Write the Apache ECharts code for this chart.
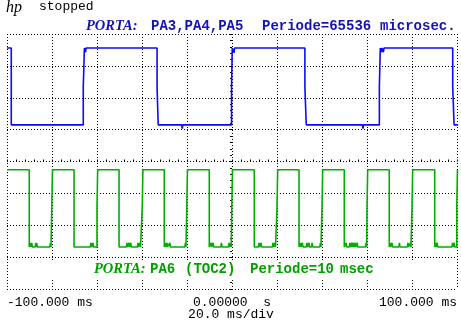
<!DOCTYPE html>
<html>
<head>
<meta charset="utf-8">
<script src="https://cdn.jsdelivr.net/npm/echarts@6/dist/echarts.min.js"></script>
<style>
  html, body { margin: 0; padding: 0; background: #fff; }
  #scope { width: 461px; height: 322px; }
</style>
</head>
<body>
<div id="scope"></div>
<script>
// Time base in ms, vertical position in screen divisions (-4 .. 4).
const timeTicks = [-100, 0, 100];
const tickLabels = ['-100.000 ms', '0.00000  s', '100.000 ms'];
const timebaseLabel = '20.0 ms/div';

// PA3/PA4/PA5 trace: starting level, transitions [ms, new level], glitches [ms, offset].
const blueStart = 3.56;
const blueEdges = [
  [-98.1, 1.15],
  [-66.1, 2.34], [-65.6, 3.56],
  [-33.3, 2.34], [-32.8, 1.15],
  [-0.2, 2.34], [0.1, 3.56],
  [32.4, 2.34], [33.0, 1.15],
  [65.5, 2.34], [65.9, 3.56],
  [98.1, 2.34], [98.7, 1.15]
];
const blueGlitches = [
  [-65.1, -0.13], [-22.1, -0.12], [0.9, -0.15],
  [58.2, -0.12], [66.4, -0.13], [67.3, -0.13]
];

// PA6 (TOC2) trace.
const greenStart = -0.26;
const greenEdges = [
  [-90.1, -2.68],
  [-80.1, -1.47], [-79.8, -0.26],
  [-70.2, -2.68],
  [-60.0, -1.47], [-59.7, -0.26],
  [-50.2, -2.68],
  [-39.9, -1.47], [-39.6, -0.26],
  [-30.1, -2.68],
  [-20.1, -1.47], [-19.8, -0.26],
  [-10.1, -2.68],
  [-0.1, -1.47], [0.2, -0.26],
  [9.9, -2.68],
  [20.0, -1.47], [20.3, -0.26],
  [29.8, -2.68],
  [40.0, -1.47], [40.3, -0.26],
  [49.9, -2.68],
  [60.0, -1.47], [60.3, -0.26],
  [69.9, -2.68],
  [80.0, -1.47], [80.3, -0.26],
  [90.1, -2.68],
  [99.9, -1.47], [100.2, -0.26]
];
const greenGlitches = [
  [-89.6, 0.13], [-89.0, 0.13], [-87.2, 0.13], [-86.8, 0.13], [-80.7, 0.12],
  [-62.7, 0.13], [-61.8, 0.13],
  [-46.7, 0.13], [-45.8, 0.13], [-45.0, 0.13], [-41.8, 0.13], [-40.9, 0.13],
  [-29.8, 0.13], [-28.9, 0.13], [-27.6, 0.13], [-20.7, 0.13],
  [-9.3, 0.13], [-8.4, 0.13], [-4.7, 0.13], [-1.3, 0.13], [-0.6, 0.12],
  [12.0, 0.13], [12.9, 0.13], [18.2, 0.13], [19.1, 0.13],
  [30.4, 0.13], [31.3, 0.13], [33.3, 0.13], [34.2, 0.13], [35.6, 0.13], [39.3, 0.13],
  [50.7, 0.13], [52.4, 0.13], [53.2, 0.13], [53.9, 0.13], [54.7, 0.13], [55.6, 0.13], [59.6, 0.13],
  [70.2, 0.13], [71.1, 0.13], [74.4, 0.13], [78.2, 0.13], [79.3, 0.13],
  [90.5, 0.13], [91.2, 0.13], [98.0, 0.13], [98.7, 0.13]
];

// Turn a start level, transitions and glitches into a step polyline.
function buildTrace(start, edges, glitches) {
  const events = edges.map(e => ({ t: e[0], level: e[1] }))
    .concat(glitches.map(g => ({ t: g[0], d: g[1] })))
    .sort((a, b) => a.t - b.t);
  let cur = start;
  const pts = [[-100, cur]];
  events.forEach(ev => {
    if (ev.level !== undefined) {
      pts.push([ev.t, cur]);
      cur = ev.level;
      pts.push([ev.t, cur]);
    } else {
      pts.push([ev.t - 0.25, cur], [ev.t, cur + ev.d], [ev.t + 0.25, cur]);
    }
  });
  pts.push([100.5, cur]);
  return pts;
}

const dotted = { color: '#000', width: 1, type: [1, 2] };
const monoBold = 'bold 14px "Liberation Mono", monospace';
const monoPlain = '13px "Liberation Mono", monospace';
const serifItalic = 'italic bold 14.5px "Liberation Serif", serif';
const blueText = '#1414b4';
const greenText = '#00a000';

function label(text, x, y, fill, font, align) {
  return {
    type: 'text', z: 20,
    style: {
      text: text, x: x, y: y, fill: fill, font: font,
      textAlign: align || 'left', textVerticalAlign: 'middle'
    }
  };
}

const chart = echarts.init(document.getElementById('scope'), null, { renderer: 'canvas' });
chart.setOption({
  animation: false,
  backgroundColor: '#fff',
  grid: { left: 7, right: 4, top: 34, bottom: 33, containLabel: false, outerBoundsMode: 'none' },
  xAxis: [
    {
      type: 'value', min: -100, max: 100, interval: 20,
      axisLine: { show: false, onZero: true },
      axisTick: { show: true, inside: true, length: 2, lineStyle: { color: '#000' } },
      minorTick: { show: true, splitNumber: 5, length: 2, lineStyle: { color: '#000' } },
      axisLabel: { show: false },
      splitLine: { show: true, lineStyle: dotted }
    },
    {
      type: 'value', position: 'bottom', min: -100, max: 100, interval: 100,
      axisLine: { show: false, onZero: false },
      axisTick: { show: false },
      splitLine: { show: false },
      axisLabel: {
        formatter: v => tickLabels[timeTicks.indexOf(v)],
        fontFamily: '"Liberation Mono", monospace', fontSize: 13, color: '#000',
        margin: 7, alignMinLabel: 'left', alignMaxLabel: 'right'
      }
    }
  ],
  yAxis: {
    type: 'value', min: -4, max: 4, interval: 1,
    axisLine: { show: false, onZero: true },
    axisTick: { show: true, inside: false, length: 2, lineStyle: { color: '#000' } },
    minorTick: { show: true, splitNumber: 5, length: 2, lineStyle: { color: '#000' } },
    axisLabel: { show: false },
    splitLine: { show: true, lineStyle: dotted }
  },
  series: [
    {
      name: 'PA3,PA4,PA5', type: 'line', xAxisIndex: 0, showSymbol: false,
      data: buildTrace(blueStart, blueEdges, blueGlitches),
      lineStyle: { color: '#0a0aff', width: 1.6 }, itemStyle: { color: '#0a0aff' }
    },
    {
      name: 'PA6', type: 'line', xAxisIndex: 0, showSymbol: false,
      data: buildTrace(greenStart, greenEdges, greenGlitches),
      lineStyle: { color: '#00b000', width: 1.6 }, itemStyle: { color: '#00b000' }
    }
  ],
  graphic: [
    label('hp', 6, 8, '#000', 'italic 16px "Liberation Serif", serif'),
    label('stopped', 39, 7, '#000', monoPlain),
    label('PORTA:', 86, 26, blueText, serifItalic),
    label('PA3,PA4,PA5', 151, 26, blueText, monoBold),
    label('Periode=65536', 262, 26, blueText, monoBold),
    label('microsec.', 380, 26, blueText, monoBold),
    { type: 'rect', z: 15, shape: { x: 10, y: 262, width: 444, height: 16 }, style: { fill: '#fff' } },
    label('PORTA:', 94, 269, greenText, serifItalic),
    label('PA6', 150, 269, greenText, monoBold),
    label('(TOC2)', 185, 269, greenText, monoBold),
    label('Periode=10', 250, 269, greenText, monoBold),
    label('msec', 340, 269, greenText, monoBold),
    label(timebaseLabel, 231, 315, '#000', monoPlain, 'center')
  ]
});
</script>
</body>
</html>
